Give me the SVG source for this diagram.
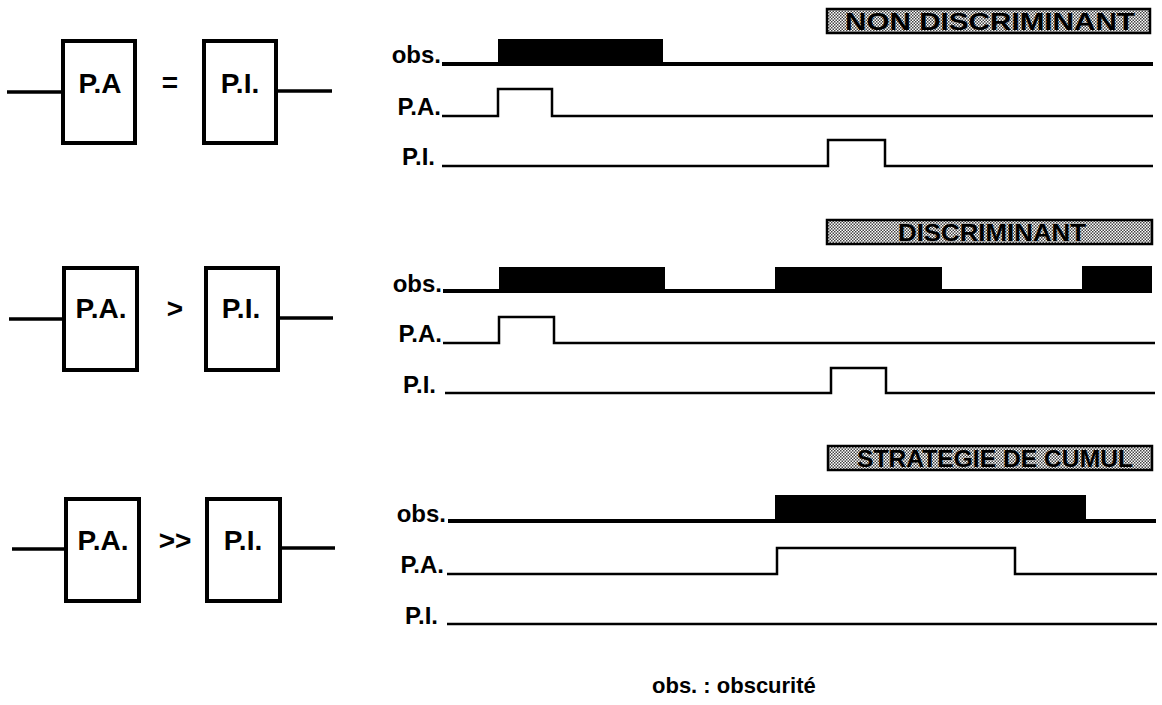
<svg xmlns="http://www.w3.org/2000/svg" width="1162" height="705" viewBox="0 0 1162 705">
<defs>
<pattern id="dots" width="3" height="3" patternUnits="userSpaceOnUse">
<rect width="3" height="3" fill="#ffffff"/>
<rect x="0" y="0" width="1.5" height="1.5" fill="#444"/>
<rect x="1.5" y="1.5" width="1.5" height="1.5" fill="#444"/>
</pattern>
<style>
.box{fill:#fff;stroke:#000;stroke-width:4}
.wire{stroke:#000;stroke-width:3.5;fill:none}
.sig{stroke:#000;stroke-width:2.5;fill:none}
.obs{stroke:#000;stroke-width:4;fill:none}
.blk{fill:#000}
.bt{font-family:"Liberation Sans",Arial,sans-serif;font-weight:bold;font-size:28px;text-anchor:middle;fill:#000}
.op{font-family:"Liberation Sans",Arial,sans-serif;font-weight:bold;font-size:28px;text-anchor:middle;fill:#000}
.lab{font-family:"Liberation Sans",Arial,sans-serif;font-weight:bold;font-size:24px;text-anchor:end;fill:#000}
.band{fill:url(#dots);stroke:#000;stroke-width:2.5}
.bandt{font-family:"Liberation Sans",Arial,sans-serif;font-weight:900;font-size:23px;fill:#000}
.foot{font-family:"Liberation Sans",Arial,sans-serif;font-weight:bold;font-size:22px;fill:#000}
</style>
</defs>
<rect width="1162" height="705" fill="#fff"/>

<!-- Section 1 -->
<g id="s1-left">
<line class="wire" x1="7" y1="92" x2="61" y2="92"/>
<rect class="box" x="63" y="41" width="72" height="102"/>
<text class="bt" x="100" y="93">P.A</text>
<text class="op" x="170" y="92">=</text>
<rect class="box" x="204" y="41" width="72" height="102"/>
<text class="bt" x="240" y="93">P.I.</text>
<line class="wire" x1="278" y1="91" x2="332" y2="91"/>
</g>
<g id="s1-label">
<rect class="band" x="827" y="9" width="323" height="24"/>
<text class="bandt" x="845" y="30" textLength="290" lengthAdjust="spacingAndGlyphs">NON DISCRIMINANT</text>
</g>
<g id="s1-timing">
<text class="lab" x="441" y="63">obs.</text>
<text class="lab" x="441" y="115">P.A.</text>
<text class="lab" x="435" y="165">P.I.</text>
<line class="obs" x1="442" y1="64" x2="1153" y2="64"/>
<rect class="blk" x="498" y="39" width="165" height="25"/>
<polyline class="sig" points="442,116 498,116 498,89 552,89 552,116 1153,116"/>
<polyline class="sig" points="442,166 828,166 828,140 885,140 885,166 1153,166"/>
</g>

<!-- Section 2 -->
<g id="s2-left">
<line class="wire" x1="9" y1="319" x2="62" y2="319"/>
<rect class="box" x="64" y="268" width="73" height="102"/>
<text class="bt" x="101" y="318">P.A.</text>
<text class="op" x="175" y="318">&gt;</text>
<rect class="box" x="206" y="268" width="72" height="102"/>
<text class="bt" x="241" y="318">P.I.</text>
<line class="wire" x1="280" y1="318" x2="333" y2="318"/>
</g>
<g id="s2-label">
<rect class="band" x="827" y="220" width="325" height="24"/>
<text class="bandt" x="898" y="241" textLength="188" lengthAdjust="spacingAndGlyphs">DISCRIMINANT</text>
</g>
<g id="s2-timing">
<text class="lab" x="442" y="292">obs.</text>
<text class="lab" x="442" y="342">P.A.</text>
<text class="lab" x="436" y="393">P.I.</text>
<line class="obs" x1="443" y1="291" x2="1152" y2="291"/>
<rect class="blk" x="499" y="267" width="166" height="24"/>
<rect class="blk" x="775" y="267" width="167" height="24"/>
<rect class="blk" x="1082" y="266" width="70" height="25"/>
<polyline class="sig" points="443,343 499,343 499,317 554,317 554,343 1155,343"/>
<polyline class="sig" points="445,393 831,393 831,368 886,368 886,393 1155,393"/>
</g>

<!-- Section 3 -->
<g id="s3-left">
<line class="wire" x1="12" y1="549" x2="64" y2="549"/>
<rect class="box" x="66" y="499" width="73" height="102"/>
<text class="bt" x="103" y="550">P.A.</text>
<text class="op" x="175" y="550">&gt;&gt;</text>
<rect class="box" x="207" y="499" width="73" height="102"/>
<text class="bt" x="243" y="550">P.I.</text>
<line class="wire" x1="282" y1="548" x2="335" y2="548"/>
</g>
<g id="s3-label">
<rect class="band" x="828" y="446" width="324" height="24"/>
<text class="bandt" x="857" y="467" textLength="276" lengthAdjust="spacingAndGlyphs">STRATEGIE DE CUMUL</text>
</g>
<g id="s3-timing">
<text class="lab" x="446" y="522">obs.</text>
<text class="lab" x="444" y="573">P.A.</text>
<text class="lab" x="438" y="624">P.I.</text>
<line class="obs" x1="448" y1="521" x2="1156" y2="521"/>
<rect class="blk" x="775" y="495" width="311" height="26"/>
<polyline class="sig" points="447,574 777,574 777,548 1015,548 1015,574 1157,574"/>
<line class="sig" x1="447" y1="624" x2="1157" y2="624"/>
</g>

<g id="legend">
<text class="foot" x="652" y="693">obs. : obscurité</text>
</g>
</svg>
